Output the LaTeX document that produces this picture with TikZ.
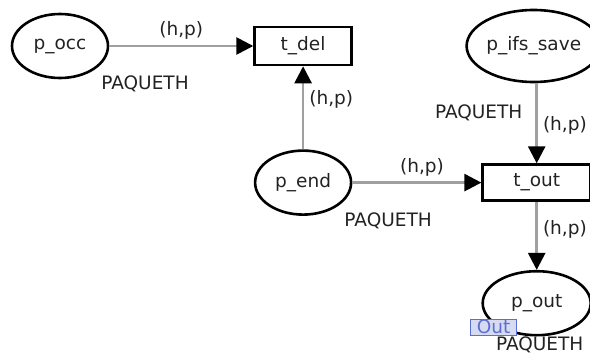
\documentclass[tikz,border=0pt]{standalone}
\usepackage{fontspec}
\setmainfont{DejaVu Sans}
\usepackage{tikz}
\usetikzlibrary{arrows.meta,positioning,calc,shapes.geometric}
\definecolor{arcg}{HTML}{A0A0A0}
\definecolor{inkt}{HTML}{222222}
\definecolor{tagb}{HTML}{5B6FD0}

\begin{document}
\begin{tikzpicture}[
		x=1pt,y=1pt,
		font=\fontsize{18.5}{21}\selectfont,
		place/.style={ellipse,draw=black,line width=2.6pt,inner sep=0pt,
			minimum width=96pt,minimum height=64pt,text=inkt},
		trans/.style={rectangle,draw=black,line width=2.6pt,inner sep=0pt,
			minimum width=97pt,minimum height=38pt,text=inkt},
		arc/.style={-{Triangle[length=17pt,width=17pt,color=black]},line width=2.6pt,arcg},
		insc/.style={text=inkt,inner sep=1pt},
		colset/.style={text=inkt,inner sep=1pt},
		porttag/.style={draw=tagb,fill=tagb!25,text=tagb,line width=1.2pt,inner sep=0.5pt,
			minimum width=46pt,minimum height=16pt},
		]
		\useasboundingbox (0,0) rectangle (590,-359);
		
		\node[place] (p_occ) at (60,-46) {p\_occ};
		\node[trans,right=144pt of p_occ] (t_del) {t\_del};
		\node[place,below=83pt of t_del] (p_end) {p\_end};
		\node[trans,right=129pt of p_end,minimum width=108pt,minimum height=36pt] (t_out) {t\_out};
		\node[place,above=80pt of t_out,minimum width=122pt,minimum height=72pt,xshift=-3pt] (p_ifs_save) {p\_ifs\_save};
		\node[place,below=68pt of t_out,minimum width=108pt] (p_out) {p\_out};
		
		% colour sets
		\node[colset] (cs_occ) at ($(p_occ)+(85,-38)$) {PAQUETH};
		\node[colset] (cs_end) at ($(p_end)+(85,-38)$) {PAQUETH};
		\node[colset] (cs_ifs) at ($(p_ifs_save)+(-55,-67)$) {PAQUETH};
		\node[colset,anchor=base,inner sep=0pt] (cs_out) at ($(p_out)+(3,-47)$) {PAQUETH};
		\node[porttag] (tag_out) at ($(p_out)+(-43,-24)$) {Out};
		
		% arcs
		\draw[arc] (p_occ) -- node[insc,above=4pt]{(h,p)} (t_del);
		\draw[arc] (p_end) -- node[insc,right=4pt,pos=0.6]{(h,p)} (t_del);
		\draw[arc] (p_end) -- node[insc,above=4pt,pos=0.54]{(h,p)} (t_out);
		\draw[arc] (p_ifs_save.south-|t_out) -- node[insc,right=4pt,pos=0.52]{(h,p)} (t_out);
		\draw[arc] (t_out) -- node[insc,right=4pt,pos=0.4]{(h,p)} (p_out);
\end{tikzpicture}
\end{document}
